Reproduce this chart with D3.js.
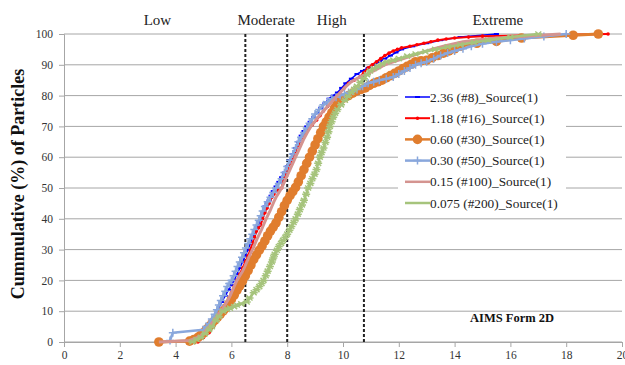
<!DOCTYPE html>
<html><head><meta charset="utf-8">
<script src="https://cdn.jsdelivr.net/npm/d3@7"></script>
<style>body{margin:0;background:#fff}svg{display:block}text{font-family:"Liberation Serif","Times New Roman",serif}</style>
</head><body><svg id="c" width="625" height="365"></svg>
<script>
const seriesNames = ["2.36 (#8)_Source(1)","1.18 (#16)_Source(1)","0.60 (#30)_Source(1)","0.30 (#50)_Source(1)","0.15 (#100)_Source(1)","0.075 (#200)_Source(1)"];
const xTicks = [0,2,4,6,8,10,12,14,16,18,20];
const yTicks = [0,10,20,30,40,50,60,70,80,90,100];
const zoneLabels = ["Low","Moderate","High","Extreme"];
const zoneLabelX = [3.35,7.25,9.6,15.55];
const zoneBounds = [6.5,8,10.75];

const s236 = [[4.5,0],[4.75,1.5],[5.0,3],[5.15,4.5],[5.3,6],[5.4,8],[5.5,10],[5.65,13],[5.78,15],[5.9,17],[6.0,18.5],[6.1,20],[6.2,22],[6.3,24],[6.4,26],[6.5,28],[6.6,30],[6.68,32],[6.75,34],[6.83,35.5],[6.9,37],[6.98,38.5],[7.05,40],[7.12,42],[7.2,44],[7.28,45],[7.35,46],[7.42,47.5],[7.5,49],[7.6,50.5],[7.7,52],[7.8,53.5],[7.9,55],[8.0,57],[8.1,59],[8.2,61],[8.3,63],[8.4,65],[8.5,67],[8.6,68.5],[8.7,70],[8.82,71.5],[8.95,73],[9.08,74.5],[9.2,76],[9.35,77.5],[9.5,79],[9.65,80],[9.8,81],[9.95,82.5],[10.1,84],[10.3,85.5],[10.5,87],[10.7,88],[10.9,89],[11.1,90],[11.3,91],[11.5,92],[11.7,93],[11.9,94],[12.1,95],[12.5,96],[13.0,97],[13.5,98],[14.2,99],[15.5,100]];
const s118 = [[4.8,0],[5.0,1.5],[5.2,3],[5.35,5],[5.5,7],[5.65,9.5],[5.8,12],[5.9,14],[6.0,16],[6.1,18],[6.2,20],[6.3,22],[6.4,24],[6.5,26],[6.6,28],[6.68,30],[6.75,32],[6.83,34],[6.9,36],[6.97,37],[7.05,38],[7.12,40],[7.2,42],[7.28,43.5],[7.35,45],[7.45,47],[7.52,48],[7.6,49],[7.7,49.6],[7.8,50],[7.85,52],[7.9,54],[8.0,56],[8.1,58],[8.2,60],[8.3,62],[8.4,64],[8.5,66],[8.62,67.5],[8.75,69],[8.9,70.5],[9.05,72],[9.18,73.5],[9.3,75],[9.45,76.5],[9.6,78],[9.75,79.5],[9.9,81],[10.05,82.5],[10.2,84],[10.4,85],[10.6,86],[10.75,87.5],[10.9,89],[11.05,90],[11.2,91],[11.35,92],[11.5,93],[11.65,93.8],[11.8,94.5],[11.95,95],[12.1,95.5],[12.4,96],[12.65,96.5],[12.9,97],[13.15,97.5],[13.4,98],[13.7,98.4],[14.0,98.7],[14.5,99],[15.0,99.3],[19.5,100]];
const s060 = [[3.4,0],[4.5,0.3],[4.65,0.8],[4.8,1.5],[4.9,2.2],[5.0,3],[5.1,4],[5.2,5],[5.3,6],[5.4,7],[5.5,8],[5.6,9],[5.7,10],[5.8,11],[5.9,12.3],[6.0,13.8],[6.1,15.2],[6.2,16.8],[6.3,18.2],[6.4,19.8],[6.5,21.5],[6.6,23.2],[6.7,25],[6.8,26.8],[6.9,28.3],[7.0,29.8],[7.1,31.2],[7.2,32.8],[7.3,34.5],[7.4,36],[7.5,37.3],[7.6,38.7],[7.7,40.5],[7.8,42.3],[7.9,44.3],[8.0,46],[8.1,47.5],[8.2,48.8],[8.3,50.2],[8.4,52],[8.5,54],[8.6,56],[8.7,58],[8.8,60],[8.9,62],[9.0,64],[9.1,66],[9.2,68],[9.3,70],[9.4,71.5],[9.5,73],[9.6,74.5],[9.7,76],[9.8,77.3],[9.9,78.5],[10.05,79.3],[10.2,80],[10.35,80.8],[10.5,81.5],[10.65,82],[10.8,82.5],[10.95,83.3],[11.1,84],[11.25,84.5],[11.4,85],[11.55,85.8],[11.7,86.5],[11.85,87.2],[12.0,88],[12.15,88.8],[12.3,89.5],[12.45,90.2],[12.6,91],[12.8,91.3],[13.0,91.5],[13.2,92.3],[13.4,93],[13.6,93.8],[13.8,94.5],[14.0,95.2],[14.2,96],[14.8,97],[15.5,97.6],[16.4,98.7],[18.25,99.6],[19.15,100]];
const s030 = [[3.8,0.5],[3.9,3],[5.0,4],[5.1,5],[5.2,6],[5.3,7.5],[5.4,9],[5.48,10.5],[5.55,12],[5.62,13.5],[5.7,15],[5.78,16.5],[5.85,18],[5.92,19],[6.0,20],[6.08,21.5],[6.15,23],[6.22,24.5],[6.3,26],[6.38,27.5],[6.45,29],[6.52,30.5],[6.6,32],[6.68,33.5],[6.75,35],[6.82,36.5],[6.9,38],[6.98,39.5],[7.05,41],[7.12,42.5],[7.2,44],[7.3,45.5],[7.4,47],[7.5,48.5],[7.6,50],[7.7,51.5],[7.8,53],[7.9,55],[8.0,57],[8.1,59],[8.2,61],[8.3,63],[8.4,65],[8.5,66.5],[8.6,68],[8.7,69.5],[8.8,71],[8.9,72.5],[9.0,74],[9.15,75.5],[9.3,77],[9.45,78],[9.6,79],[9.75,79.5],[9.9,80],[10.05,80.5],[10.2,81],[10.35,81.5],[10.5,82],[10.7,83],[10.9,84],[11.1,84.5],[11.3,85],[11.55,85.5],[11.8,86],[12.0,87],[12.2,88],[12.4,89],[12.6,90],[12.8,90.5],[13.0,91],[13.25,92],[13.5,93],[13.75,93.8],[14.0,94.5],[14.3,95.2],[14.6,96],[15.0,96.8],[15.5,97.5],[16.0,98],[16.5,98.5],[17.2,99.2],[18.0,100]];
const s015 = [[3.4,0],[4.5,0.5],[4.7,1.2],[4.9,2],[5.05,3.5],[5.2,5],[5.33,6.5],[5.45,8],[5.58,9.5],[5.7,11],[5.8,12.5],[5.9,14],[5.98,15.5],[6.05,17],[6.12,18.5],[6.2,20],[6.3,21.5],[6.4,23],[6.48,24.5],[6.55,26],[6.62,27.5],[6.7,29],[6.78,30.5],[6.85,32],[6.92,33.5],[7.0,35],[7.08,36.5],[7.15,38],[7.22,39.5],[7.3,41],[7.38,42.5],[7.45,44],[7.52,45.5],[7.6,47],[7.7,48.5],[7.8,50],[7.9,52],[8.0,54],[8.1,56],[8.2,58],[8.3,60],[8.4,62],[8.5,64],[8.6,66],[8.72,68],[8.85,70],[8.98,71.5],[9.1,73],[9.25,74.5],[9.4,76],[9.55,77.5],[9.7,79],[9.85,80.5],[10.0,82],[10.15,83.3],[10.3,84.5],[10.5,85.5],[10.7,86.5],[10.9,87.2],[11.1,88],[11.3,89],[11.5,90],[11.75,90.8],[12.0,91.5],[12.25,92.3],[12.5,93],[12.75,93.8],[13.0,94.5],[13.3,95.3],[13.6,96],[13.95,96.8],[14.3,97.5],[14.75,98],[15.2,98.5],[15.8,98.9],[16.5,99.3],[17.8,100]];
const s0075 = [[4.6,0],[4.75,0.8],[4.9,1.5],[5.05,2.7],[5.2,4],[5.3,5],[5.45,7],[5.55,8.3],[5.7,10],[5.85,10.6],[5.95,11],[6.1,11.5],[6.2,12],[6.35,12.4],[6.55,13],[6.65,14.3],[6.8,16],[6.9,17],[7.0,18],[7.08,19],[7.15,20],[7.23,21.5],[7.3,23],[7.38,24.5],[7.45,26],[7.5,27.3],[7.55,28.5],[7.63,29.8],[7.7,31],[7.78,32],[7.85,33],[7.93,34],[8.0,35],[8.08,36.3],[8.15,37.5],[8.23,38.8],[8.3,40],[8.38,41.5],[8.45,43],[8.53,44.5],[8.6,46],[8.68,48],[8.75,50],[8.83,51.5],[8.9,53],[8.98,54.5],[9.05,56],[9.11,58],[9.17,60],[9.23,61.5],[9.3,63],[9.37,64.8],[9.43,66.5],[9.48,68.3],[9.53,70],[9.59,71.5],[9.65,73],[9.72,74.3],[9.8,75.5],[9.93,77],[10.07,78.5],[10.18,79.8],[10.3,81],[10.4,82],[10.5,83],[10.62,84.3],[10.75,85.5],[10.86,86.8],[10.97,88],[11.1,88.8],[11.25,89.5],[11.4,90.3],[11.56,91],[11.8,91.5],[12.0,92],[12.3,92.8],[12.6,93.5],[12.95,94.3],[13.3,95],[13.75,95.8],[14.2,96.5],[14.7,97.3],[15.2,98],[16.0,99],[17.0,100]];

const seriesData = [s236,s118,s060,s030,s015,s0075];
const colors = ["#0000ff","#ff0000","#e07d2e","#89a7dc","#d49490","#a6c47c"];
const widths = [1.5,2,3,2.5,3,2.5];
const markers = ["dash","dot","circle","plus","none","star"];

const svg = d3.select("#c");
const x = d3.scaleLinear().domain([0,20]).range([64,622]);
const y = d3.scaleLinear().domain([0,100]).range([342,34]);

svg.append("g").selectAll("line").data(yTicks).join("line")
  .attr("x1",x(0)).attr("x2",x(20)).attr("y1",d=>y(d)).attr("y2",d=>y(d))
  .attr("stroke","#a6a6a6").attr("stroke-width",1);

const yAxis = svg.append("g").attr("transform",`translate(${x(0)},0)`)
  .call(d3.axisLeft(y).tickValues(yTicks).tickSize(5).tickPadding(6));
const xAxis = svg.append("g").attr("transform",`translate(0,${y(0)})`)
  .call(d3.axisBottom(x).tickValues(xTicks).tickSize(5).tickPadding(4));
[yAxis,xAxis].forEach(a=>{
  a.select(".domain").attr("stroke","#a6a6a6");
  a.selectAll(".tick line").attr("stroke","#a6a6a6");
  a.selectAll("text").attr("font-family","Liberation Serif").attr("font-size",11.5).attr("fill","#333");
});

svg.append("g").selectAll("line").data(zoneBounds).join("line")
  .attr("x1",d=>x(d)).attr("x2",d=>x(d)).attr("y1",y(100)).attr("y2",y(0))
  .attr("stroke","#222").attr("stroke-width",2).attr("stroke-dasharray","3,2");

svg.append("g").selectAll("text").data(zoneLabels).join("text")
  .attr("x",(d,i)=>x(zoneLabelX[i])).attr("y",25).attr("text-anchor","middle")
  .attr("font-size",15).attr("fill","#222").text(d=>d);

const line = d3.line().x(d=>x(d[0])).y(d=>y(d[1]));
function drawMarker(g, type, c, px, py){
  if(type==="circle") g.append("circle").attr("cx",px).attr("cy",py).attr("r",4.8).attr("fill",c);
  else if(type==="dot") g.append("circle").attr("cx",px).attr("cy",py).attr("r",1.8).attr("fill",c);
  else if(type==="dash") g.append("line").attr("x1",px-2.5).attr("x2",px+2.5).attr("y1",py).attr("y2",py).attr("stroke",c).attr("stroke-width",2);
  else if(type==="plus") g.append("path").attr("d",`M${px-4},${py}H${px+4}M${px},${py-4}V${py+4}`).attr("stroke",c).attr("stroke-width",1.5);
  else if(type==="star") g.append("path").attr("d",`M${px-4},${py}H${px+4}M${px-3},${py-2.5}L${px+3},${py+2.5}M${px-3},${py+2.5}L${px+3},${py-2.5}`).attr("stroke",c).attr("stroke-width",1.5);
}
seriesData.forEach((data,i)=>{
  const g = svg.append("g");
  g.append("path").datum(data).attr("d",line).attr("fill","none")
    .attr("stroke",colors[i]).attr("stroke-width",widths[i]).attr("stroke-linejoin","round");
  data.forEach(d=>drawMarker(g,markers[i],colors[i],x(d[0]),y(d[1])));
});

const lg = svg.append("g");
lg.append("rect").attr("x",398).attr("y",86).attr("width",168).attr("height",128).attr("fill","#fff");
seriesNames.forEach((n,i)=>{
  const yy = 97 + i*21.2;
  lg.append("line").attr("x1",405).attr("x2",430).attr("y1",yy).attr("y2",yy)
    .attr("stroke",colors[i]).attr("stroke-width",Math.min(widths[i],2.5));
  if(markers[i]!=="star") drawMarker(lg,markers[i],colors[i],417.5,yy);
  lg.append("text").attr("x",430).attr("y",yy+4.5).attr("font-size",13.3).attr("fill","#222").text(n);
});

svg.append("text").attr("transform","translate(24,184) rotate(-90)").attr("text-anchor","middle")
  .attr("font-size",18).attr("font-weight","bold").attr("fill","#111").text("Cummulative (%) of Particles");

svg.append("text").attr("x",470).attr("y",322).attr("font-size",12.5).attr("font-weight","bold").attr("fill","#111").text("AIMS Form 2D");
</script></body></html>
